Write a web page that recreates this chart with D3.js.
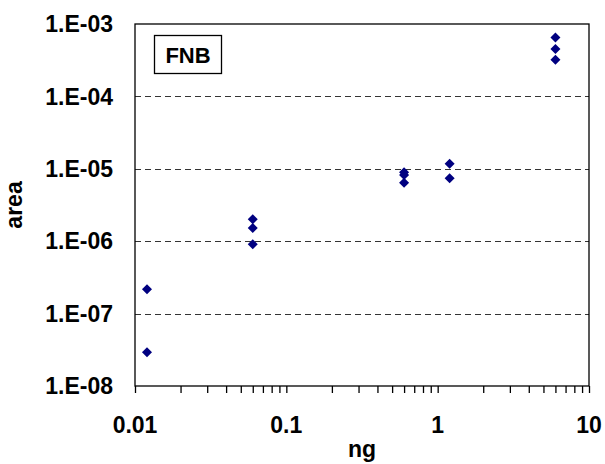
<!DOCTYPE html>
<html>
<head>
<meta charset="utf-8">
<script src="https://cdn.jsdelivr.net/npm/d3@7"></script>
<style>
  body { margin: 0; background: #fff; }
  text { font-family: Arial, "Liberation Sans", sans-serif; font-weight: bold; }
</style>
</head>
<body>
<svg width="605" height="464"></svg>
<script>
// data
var ngValues   = [0.012, 0.012, 0.06, 0.06, 0.06, 0.6, 0.6, 0.6, 1.2, 1.2, 6, 6, 6];
var areaValues = [2.17e-7, 2.92e-8, 2.01e-6, 1.52e-6, 9.1e-7, 8.95e-6, 8.2e-6, 6.4e-6, 1.17e-5, 7.4e-6, 6.5e-4, 4.5e-4, 3.2e-4];
var xTicks = [0.01, 0.1, 1, 10];
var xTickLabels = ["0.01", "0.1", "1", "10"];
var yTicks = [1e-8, 1e-7, 1e-6, 1e-5, 1e-4, 1e-3];
var yTickLabels = ["1.E-08", "1.E-07", "1.E-06", "1.E-05", "1.E-04", "1.E-03"];
var gridValues = [1e-7, 1e-6, 1e-5, 1e-4];

var margin = {top: 24, right: 16, bottom: 78, left: 135},
    width = 605 - margin.left - margin.right,
    height = 464 - margin.top - margin.bottom;

var svg = d3.select("svg")
  .append("g")
    .attr("transform", "translate(" + margin.left + "," + margin.top + ")");

var x = d3.scaleLog().domain([0.01, 10]).range([0, width]);
var y = d3.scaleLog().domain([1e-8, 1e-3]).range([height, 0]);

// dashed gridlines
svg.append("g")
  .selectAll("line")
  .data(gridValues)
  .enter()
  .append("line")
    .attr("x1", 0)
    .attr("x2", width)
    .attr("y1", function(d) { return Math.round(y(d)) + 0.5; })
    .attr("y2", function(d) { return Math.round(y(d)) + 0.5; })
    .attr("stroke", "#333")
    .attr("stroke-width", 1)
    .attr("stroke-dasharray", "6,4");

// frame
svg.append("rect")
  .attr("x", 0)
  .attr("y", 0)
  .attr("width", width)
  .attr("height", height)
  .attr("fill", "none")
  .attr("stroke", "#000")
  .attr("stroke-width", 1.3);

// x axis: ticks at every 1..9 of each decade, labels only at decades
var minor = [];
[0.01, 0.1, 1].forEach(function(dec) {
  for (var k = 1; k < 10; k++) minor.push(dec * k);
});
minor.push(10);

var xAxis = svg.append("g")
  .attr("transform", "translate(0," + height + ")")
  .call(d3.axisBottom(x).tickValues(minor).tickSize(7).tickFormat(""));
xAxis.select(".domain").remove();
xAxis.selectAll(".tick line").attr("stroke", "#000").attr("stroke-width", 1.3);

svg.append("g")
  .selectAll("text")
  .data(xTicks)
  .enter()
  .append("text")
    .attr("x", function(d) { return x(d); })
    .attr("y", height + 47)
    .attr("text-anchor", "middle")
    .style("font-size", "23px")
    .text(function(d, i) { return xTickLabels[i]; });

// y labels
svg.append("g")
  .selectAll("text")
  .data(yTicks)
  .enter()
  .append("text")
    .attr("x", -22)
    .attr("y", function(d) { return y(d); })
    .attr("dy", "0.36em")
    .attr("text-anchor", "end")
    .style("font-size", "23px")
    .text(function(d, i) { return yTickLabels[i]; });

// axis titles
svg.append("text")
  .attr("x", width / 2)
  .attr("y", height + 71)
  .attr("text-anchor", "middle")
  .style("font-size", "23px")
  .text("ng");

svg.append("text")
  .attr("transform", "translate(" + (-113) + "," + (height / 2) + ") rotate(-90)")
  .attr("text-anchor", "middle")
  .style("font-size", "23px")
  .text("area");

// label box
svg.append("rect")
  .attr("x", 19.5)
  .attr("y", 11.5)
  .attr("width", 67)
  .attr("height", 38)
  .attr("fill", "#fff")
  .attr("stroke", "#000")
  .attr("stroke-width", 1.3);
svg.append("text")
  .attr("x", 53)
  .attr("y", 39)
  .attr("text-anchor", "middle")
  .style("font-size", "22px")
  .text("FNB");

// points
svg.append("g")
  .selectAll("path")
  .data(ngValues)
  .enter()
  .append("path")
    .attr("transform", function(d, i) { return "translate(" + x(d) + "," + y(areaValues[i]) + ")"; })
    .attr("d", d3.symbol().type(d3.symbolDiamond2).size(64))
    .attr("fill", "#000080");
</script>
</body>
</html>
